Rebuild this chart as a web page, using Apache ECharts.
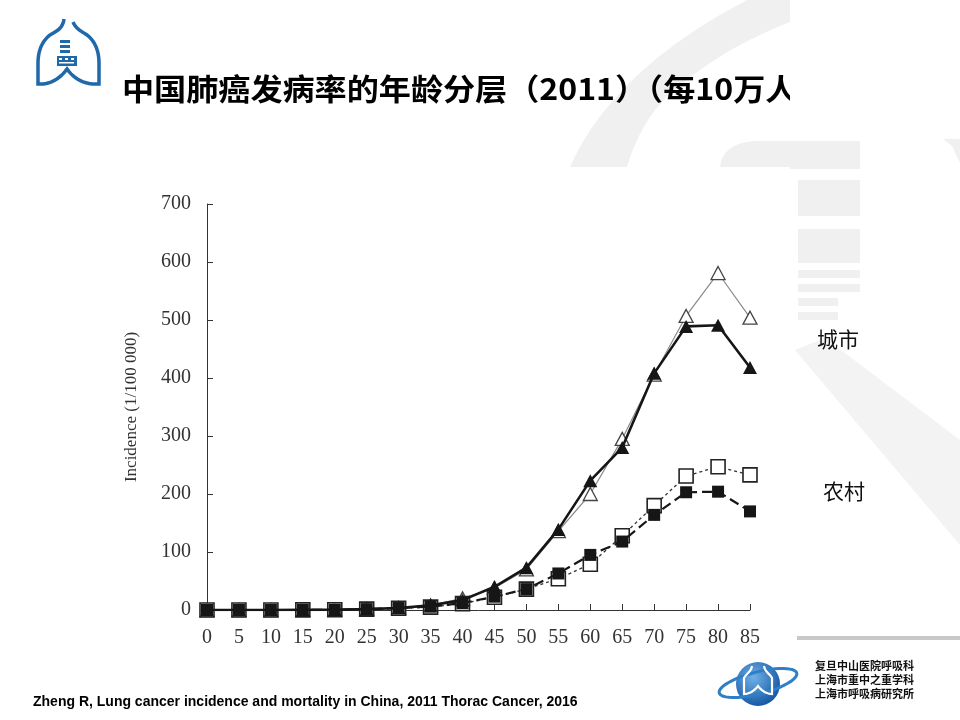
<!DOCTYPE html>
<html>
<head>
<meta charset="utf-8">
<script src="https://cdn.jsdelivr.net/npm/echarts@6/dist/echarts.min.js"></script>
<style>
html,body{margin:0;padding:0;background:#fff;}
#chart{width:960px;height:720px;}
</style>
</head>
<body>
<div id="chart"></div>
<script>
// ---- data ----
const ages = [0,5,10,15,20,25,30,35,40,45,50,55,60,65,70,75,80,85];
const urbanSolid = [0,0,0,0.2,0.5,1.5,3.5,8,17,40,73,139,223,280,408,489,491,418];
const urbanOpen  = [0,0,0,0.2,0.5,1.5,3.5,8,20,38,70,136,200,295,406,507,581,504];
const ruralOpen  = [0,0,0,0.2,0.5,1.5,3,5,11,22,36,54,79,128,180,231,247,233];
const ruralSolid = [0,0,0,0,0.5,1.5,3.4,5.7,12,23,36,63,95,118,164,203,204,170];
const yTicks = [0,100,200,300,400,500,600,700];
const titleText = '中国肺癌发病率的年龄分层（2011）（每10万人）';
const urbanLabel = '城市';
const ruralLabel = '农村';
const sourceText = 'Zheng R, Lung cancer incidence and mortality in China, 2011 Thorac Cancer, 2016';
const orgLines = ['复旦中山医院呼吸科','上海市重中之重学科','上海市呼吸病研究所'];

const pairs = arr => ages.map((a,i)=>[a,arr[i]]);
const serif = '"Liberation Serif","DejaVu Serif",serif';
const cjk = '"Noto Sans CJK SC","Noto Sans",sans-serif';
const wm = '#f0f0f0';

// decoration helper: sample a path made of lines ('L',x,y) and cubics ('C',x1,y1,x2,y2,x,y)
function trace(start, segs){
  const pts=[start.slice()]; let p=start.slice();
  segs.forEach(s=>{
    if(s[0]==='L'){p=[s[1],s[2]];pts.push(p);}
    else{
      const [_,x1,y1,x2,y2,x,y]=s;
      for(let i=1;i<=12;i++){const t=i/12,u=1-t;
        pts.push([u*u*u*p[0]+3*u*u*t*x1+3*u*t*t*x2+t*t*t*x, u*u*u*p[1]+3*u*u*t*y1+3*u*t*t*y2+t*t*t*y]);}
      p=[x,y];
    }
  });
  return pts;
}
function ellipsePts(cx,cy,rx,ry,rot){
  const pts=[];
  for(let i=0;i<48;i++){const a=i/48*Math.PI*2;const x=rx*Math.cos(a),y=ry*Math.sin(a);
    pts.push([cx+x*Math.cos(rot)-y*Math.sin(rot), cy+x*Math.sin(rot)+y*Math.cos(rot)]);}
  return pts;
}

const swoosh = trace([570,167],[['C',590,120,640,55,747,0],['L',790,0],['L',790,22],['C',730,45,680,80,655,110],['C',640,130,632,150,627,167]]);
const lobe = trace([720,167],[['C',722,150,735,141,760,141],['L',790,141],['L',790,167]]);
const lung = trace([64,19],[['C',63,28,57,31,50,35],['C',42,41,38,51,38,63],['L',38,84],['C',49,85,60,79,67,69],['C',74,79,85,85,99,84],['L',99,63],['C',99,51,95,41,87,35],['C',81,31,76,29,73,22]]);
const lungSmall = trace([752,666],[['C',751,672,746,674,744,678],['L',744,694],['C',750,694,755,690,758,686],['C',761,690,766,694,772,694],['L',772,678],['C',770,674,765,672,764,666]]);

const chart = echarts.init(document.getElementById('chart'));
chart.setOption({
  backgroundColor:'#ffffff',
  animation:false,
  grid:{left:207,right:210,top:204,bottom:110},
  xAxis:{
    type:'value',min:0,max:85,interval:5,
    axisLine:{lineStyle:{color:'#333',width:1}},
    axisTick:{inside:true,length:6,lineStyle:{color:'#333'}},
    axisLabel:{color:'#333',fontFamily:serif,fontSize:20,margin:18},
    splitLine:{show:false}
  },
  yAxis:{
    type:'value',min:yTicks[0],max:yTicks[yTicks.length-1],interval:100,
    name:'Incidence (1/100 000)',nameLocation:'middle',nameGap:67,nameRotate:90,
    nameTextStyle:{color:'#333',fontFamily:serif,fontSize:17},
    axisLine:{show:true,lineStyle:{color:'#333',width:1}},
    axisTick:{show:true,inside:true,length:6,lineStyle:{color:'#333'}},
    axisLabel:{color:'#333',fontFamily:serif,fontSize:20,margin:16},
    splitLine:{show:false}
  },
  series:[
    {type:'line',name:'urbanOpen',data:pairs(urbanOpen),z:3,
     lineStyle:{color:'#8a8a8a',width:1.2},
     symbol:'triangle',symbolSize:[14,13],
     itemStyle:{color:'#fff',borderColor:'#444',borderWidth:1.3}},
    {type:'line',name:'urbanSolid',data:pairs(urbanSolid),z:5,
     lineStyle:{color:'#161616',width:2.6},
     symbol:'triangle',symbolSize:[14,13],
     itemStyle:{color:'#161616',borderColor:'#161616',borderWidth:0}},
    {type:'line',name:'ruralOpen',data:pairs(ruralOpen),z:4,
     lineStyle:{color:'#333',width:1.3,type:[3,3]},
     symbol:'rect',symbolSize:14,
     itemStyle:{color:'#fff',borderColor:'#222',borderWidth:1.6}},
    {type:'line',name:'ruralSolid',data:pairs(ruralSolid),z:6,
     lineStyle:{color:'#161616',width:2.2,type:[10,5]},
     symbol:'rect',symbolSize:12,
     itemStyle:{color:'#161616',borderWidth:0}}
  ],
  graphic:[
    // watermark (left part)
    {type:'polygon',z:-10,shape:{points:swoosh},style:{fill:wm}},
    {type:'polygon',z:-10,shape:{points:lobe},style:{fill:wm}},
    // title (slightly widened like the slide)
    {type:'text',z:20,left:122,top:74,scaleX:1.07,style:{text:titleText,fill:'#000',font:'bold 30px '+cjk}},
    // right-hand panel covering the title end
    {type:'rect',z:21,shape:{x:790,y:0,width:170,height:180},style:{fill:'#fff'}},
    // watermark (right panel)
    {type:'rect',z:22,shape:{x:790,y:141,width:70,height:28},style:{fill:wm}},
    {type:'rect',z:22,shape:{x:798,y:180,width:62,height:36},style:{fill:wm}},
    {type:'rect',z:-10,shape:{x:798,y:229,width:62,height:34},style:{fill:wm}},
    {type:'rect',z:-10,shape:{x:798,y:270,width:62,height:8},style:{fill:wm}},
    {type:'rect',z:-10,shape:{x:798,y:284,width:62,height:8},style:{fill:wm}},
    {type:'rect',z:-10,shape:{x:798,y:298,width:40,height:8},style:{fill:wm}},
    {type:'rect',z:-10,shape:{x:798,y:312,width:40,height:8},style:{fill:wm}},
    {type:'polygon',z:22,shape:{points:[[943,139],[952,146],[960,163],[960,139]]},style:{fill:wm}},
    {type:'polygon',z:-10,shape:{points:[[795,350],[825,338],[960,440],[960,545]]},style:{fill:'#f3f3f3'}},
    // bottom grey line
    {type:'rect',z:-5,shape:{x:797,y:636,width:163,height:4},style:{fill:'#c8c8c8'}},
    // group labels
    {type:'text',z:20,left:817,top:329,style:{text:urbanLabel,fill:'#111',font:'normal 21px '+cjk}},
    {type:'text',z:20,left:823,top:481,style:{text:ruralLabel,fill:'#111',font:'normal 21px '+cjk}},
    // source
    {type:'text',z:20,left:33,top:695,style:{text:sourceText,fill:'#000',font:'bold 14px "Liberation Sans",Arial,sans-serif'}},
    // top-left lung logo
    {type:'polyline',z:20,shape:{points:lung},style:{fill:null,stroke:'#1f68a9',lineWidth:3.5}},
    {type:'rect',z:20,shape:{x:60,y:40,width:10,height:3},style:{fill:'#1f68a9'}},
    {type:'rect',z:20,shape:{x:60,y:45,width:10,height:3},style:{fill:'#1f68a9'}},
    {type:'rect',z:20,shape:{x:60,y:50,width:10,height:3},style:{fill:'#1f68a9'}},
    {type:'rect',z:20,shape:{x:57,y:56,width:20,height:10},style:{fill:'#1f68a9'}},
    {type:'rect',z:21,shape:{x:59,y:58,width:3,height:2},style:{fill:'#fff'}},
    {type:'rect',z:21,shape:{x:65,y:58,width:3,height:2},style:{fill:'#fff'}},
    {type:'rect',z:21,shape:{x:71,y:58,width:3,height:2},style:{fill:'#fff'}},
    {type:'rect',z:21,shape:{x:59,y:62,width:15,height:1.5},style:{fill:'#fff'}},
    // bottom-right globe logo
    {type:'circle',z:20,shape:{cx:758,cy:684,r:22},style:{fill:{type:'radial',x:0.4,y:0.35,r:0.7,colorStops:[{offset:0,color:'#6fb0e8'},{offset:1,color:'#1254a0'}]}}},
    {type:'polygon',z:21,shape:{points:ellipsePts(758,683,40,11,-0.25)},style:{fill:null,stroke:'#2f7ec8',lineWidth:3}},
    {type:'polyline',z:22,shape:{points:lungSmall},style:{fill:null,stroke:'#fff',lineWidth:2.2}},
    {type:'text',z:20,left:815,top:660,style:{text:orgLines[0],fill:'#111',font:'bold 11px '+cjk}},
    {type:'text',z:20,left:815,top:674,style:{text:orgLines[1],fill:'#111',font:'bold 11px '+cjk}},
    {type:'text',z:20,left:815,top:688,style:{text:orgLines[2],fill:'#111',font:'bold 11px '+cjk}}
  ]
});
</script>
</body>
</html>
